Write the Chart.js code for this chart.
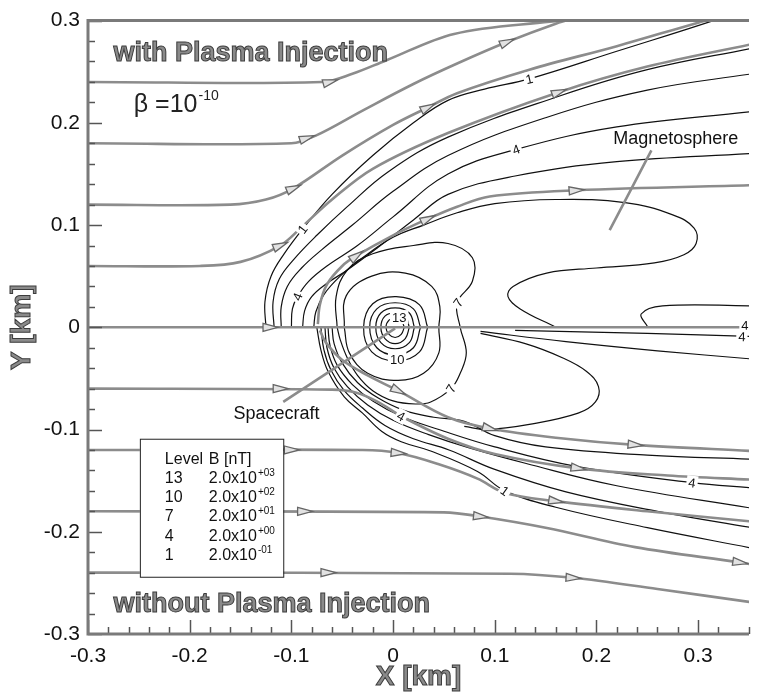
<!DOCTYPE html>
<html>
<head>
<meta charset="utf-8">
<script src="https://cdn.jsdelivr.net/npm/chart.js@4.4.1/dist/chart.umd.min.js"></script>
<style>
html, body { margin: 0; padding: 0; background: #fff; }
</style>
</head>
<body>
<canvas id="chart" width="759" height="695"></canvas>
<script>
// tick labels on both axes
const xTickLabels = ['-0.3', '-0.2', '-0.1', '0', '0.1', '0.2', '0.3'];
const yTickLabels = ['-0.3', '-0.2', '-0.1', '0', '0.1', '0.2', '0.3'];

// streamlines [x, y] in km
const s1 = [[-0.3, 0.24], [-0.07, 0.24], [-0.04, 0.248], [-0.007, 0.261], [0.06, 0.287], [0.154, 0.299], [0.2, 0.303]];
const s2 = [[-0.3, 0.18], [-0.1, 0.18], [-0.075, 0.188], [-0.03, 0.212], [0.02, 0.238], [0.063, 0.258], [0.112, 0.279], [0.16, 0.297], [0.19, 0.306]];
const s3 = [[-0.3, 0.12], [-0.16, 0.12], [-0.125, 0.125], [-0.098, 0.136], [-0.05, 0.168], [0.0, 0.198], [0.034, 0.215], [0.063, 0.229], [0.134, 0.252], [0.22, 0.275], [0.3, 0.298], [0.33, 0.306]];
const s4 = [[-0.3, 0.06], [-0.19, 0.06], [-0.15, 0.064], [-0.111, 0.08], [-0.09, 0.098], [-0.06, 0.125], [-0.02, 0.155], [0.054, 0.19], [0.163, 0.23], [0.25, 0.255], [0.353, 0.277]];
const s0 = [[-0.3, 0.0], [0.353, 0.0]];
const w1 = [[-0.074, 0.003], [-0.072, 0.022], [-0.065, 0.042], [-0.05, 0.06], [-0.036, 0.07], [0.0, 0.09], [0.034, 0.106], [0.063, 0.118], [0.095, 0.128], [0.18, 0.134], [0.353, 0.139]];
const g1 = [[-0.072, -0.003], [-0.066, -0.015], [-0.05, -0.032], [-0.025, -0.047], [0.005, -0.062], [0.054, -0.088], [0.095, -0.099], [0.16, -0.108], [0.238, -0.115], [0.353, -0.121]];
const l1 = [[-0.3, -0.06], [-0.06, -0.061], [-0.036, -0.064], [-0.015, -0.073], [0.01, -0.088], [0.054, -0.109], [0.1, -0.124], [0.182, -0.138], [0.27, -0.145], [0.353, -0.149]];
const l2 = [[-0.3, -0.12], [-0.03, -0.12], [0.005, -0.123], [0.045, -0.134], [0.083, -0.148], [0.11, -0.162], [0.16, -0.17], [0.25, -0.18], [0.353, -0.19]];
const l3 = [[-0.3, -0.18], [0.05, -0.181], [0.086, -0.185], [0.15, -0.196], [0.238, -0.215], [0.341, -0.23], [0.353, -0.232]];
const l4 = [[-0.3, -0.24], [0.115, -0.241], [0.177, -0.245], [0.26, -0.256], [0.353, -0.269]];

// arrow heads: [streamline, x, y]
const arrowMarks = [
    [s1, -0.062, 0.24],
    [s2, -0.085, 0.185], [s2, 0.112, 0.279],
    [s3, -0.098, 0.136], [s3, 0.034, 0.215],
    [s4, -0.111, 0.08], [s4, 0.163, 0.23],
    [w1, -0.036, 0.07], [w1, 0.034, 0.106], [w1, 0.18, 0.134],
    [s0, -0.121, 0.0],
    [g1, 0.005, -0.062], [g1, 0.095, -0.099], [g1, 0.238, -0.115],
    [l1, -0.111, -0.06], [l1, 0.182, -0.138],
    [l2, -0.1, -0.12], [l2, 0.005, -0.123], [l2, 0.16, -0.17],
    [l3, -0.087, -0.18], [l3, 0.086, -0.185], [l3, 0.341, -0.23],
    [l4, -0.064, -0.24], [l4, 0.177, -0.245]
];

// contours of |B|, upper fan
const cu1 = [[-0.125, 0], [-0.126, 0.025], [-0.12, 0.05], [-0.107, 0.072], [-0.089, 0.096], [-0.06, 0.13], [-0.02, 0.168], [0.02, 0.2], [0.054, 0.222], [0.09, 0.233], [0.134, 0.243], [0.22, 0.27], [0.315, 0.3], [0.33, 0.306]];
const cu2 = [[-0.117, 0], [-0.118, 0.025], [-0.112, 0.047], [-0.098, 0.066], [-0.075, 0.09], [-0.045, 0.118], [-0.005, 0.152], [0.054, 0.186], [0.163, 0.226], [0.25, 0.252], [0.353, 0.273]];
const cu3 = [[-0.11, 0], [-0.11, 0.02], [-0.104, 0.04], [-0.09, 0.058], [-0.07, 0.076], [-0.04, 0.1], [0.0, 0.133], [0.054, 0.168], [0.15, 0.205], [0.25, 0.232], [0.353, 0.248]];
const cu4 = [[-0.1, 0], [-0.099, 0.018], [-0.094, 0.03], [-0.083, 0.045], [-0.065, 0.06], [-0.035, 0.08], [0.0, 0.108], [0.054, 0.15], [0.121, 0.174], [0.22, 0.196], [0.353, 0.211]];
const cu5 = [[-0.089, 0], [-0.087, 0.016], [-0.08, 0.03], [-0.065, 0.043], [-0.045, 0.056], [-0.015, 0.078], [0.02, 0.105], [0.054, 0.13], [0.12, 0.148], [0.22, 0.162], [0.353, 0.17]];
const cu6 = [[-0.078, 0], [-0.076, 0.015], [-0.068, 0.032], [-0.052, 0.05], [-0.03, 0.068], [0.0, 0.088], [0.03, 0.1], [0.063, 0.112], [0.1, 0.121], [0.16, 0.125], [0.228, 0.122], [0.275, 0.11], [0.296, 0.097], [0.298, 0.082], [0.286, 0.071], [0.257, 0.063], [0.2, 0.058], [0.151, 0.053], [0.118, 0.04], [0.113, 0.03], [0.125, 0.018], [0.16, 0]];

// contours of |B|, lower fan
const cl1 = [[-0.075, 0], [-0.071, -0.022], [-0.064, -0.043], [-0.048, -0.068], [-0.03, -0.084], [-0.011, -0.102], [0.008, -0.112], [0.037, -0.121], [0.083, -0.141], [0.11, -0.16], [0.16, -0.176], [0.25, -0.196], [0.353, -0.216]];
const cl2 = [[-0.071, 0], [-0.068, -0.022], [-0.061, -0.042], [-0.048, -0.062], [-0.03, -0.079], [-0.008, -0.096], [0.02, -0.109], [0.055, -0.12], [0.1, -0.139], [0.17, -0.161], [0.26, -0.18], [0.353, -0.196]];
const cl3 = [[-0.067, 0], [-0.065, -0.02], [-0.058, -0.04], [-0.045, -0.058], [-0.025, -0.076], [0.0, -0.091], [0.035, -0.105], [0.075, -0.118], [0.13, -0.133], [0.22, -0.155], [0.353, -0.177]];
const cl4 = [[-0.064, 0], [-0.062, -0.018], [-0.055, -0.037], [-0.04, -0.056], [-0.02, -0.072], [0.008, -0.087], [0.045, -0.1], [0.1, -0.117], [0.18, -0.136], [0.294, -0.152], [0.353, -0.157]];
const cl5 = [[-0.06, 0], [-0.058, -0.016], [-0.05, -0.035], [-0.035, -0.054], [-0.015, -0.069], [0.01, -0.081], [0.04, -0.088], [0.07, -0.092], [0.1, -0.106], [0.15, -0.117], [0.25, -0.125], [0.353, -0.129]];

// contours around the spacecraft
const r1 = [[0.011, 0], [0.008, 0.007], [0.002, 0.009], [-0.004, 0.007], [-0.007, 0], [-0.004, -0.007], [0.002, -0.01], [0.008, -0.007], [0.011, 0]];
const r2 = [[0.016, 0], [0.012, 0.011], [0.002, 0.014], [-0.008, 0.011], [-0.012, 0], [-0.008, -0.011], [0.002, -0.016], [0.012, -0.011], [0.016, 0]];
const r3 = [[0.021, 0], [0.016, 0.014], [0.002, 0.019], [-0.012, 0.014], [-0.017, 0], [-0.012, -0.015], [0.002, -0.021], [0.016, -0.015], [0.021, 0]];
const r4 = [[0.027, 0], [0.02, 0.018], [0.002, 0.024], [-0.016, 0.018], [-0.023, 0], [-0.016, -0.02], [0.002, -0.027], [0.02, -0.02], [0.027, 0]];
const r5 = [[0.034, 0], [0.026, 0.022], [0.003, 0.03], [-0.02, 0.023], [-0.029, 0], [-0.021, -0.024], [0.003, -0.033], [0.026, -0.024], [0.034, 0]];
const r6 = [[-0.048, 0], [-0.046, 0.031], [-0.021, 0.05], [0.012, 0.053], [0.038, 0.04], [0.046, 0.02], [0.045, 0], [0.045, -0.025], [0.03, -0.045], [0.005, -0.052], [-0.025, -0.045], [-0.043, -0.025], [-0.048, 0]];
const c7 = [[-0.055, 0], [-0.056, 0.03], [-0.045, 0.056], [-0.02, 0.072], [0.02, 0.08], [0.054, 0.082], [0.078, 0.068], [0.078, 0.045], [0.063, 0.024], [0.066, 0], [0.072, -0.025], [0.066, -0.045], [0.057, -0.06], [0.037, -0.073], [0.022, -0.075], [0.0, -0.072], [-0.02, -0.062], [-0.035, -0.047], [-0.045, -0.03], [-0.052, -0.012], [-0.055, 0]];

// contours in the tail
const cr7 = [[0.086, -0.004], [0.17, -0.014], [0.26, -0.023], [0.353, -0.031]];
const lobeLow = [[0.086, -0.006], [0.13, -0.016], [0.167, -0.03], [0.19, -0.043], [0.202, -0.058], [0.199, -0.073], [0.182, -0.084], [0.134, -0.095], [0.092, -0.1], [0.07, -0.097]];
const cr4a = [[0.25, 0.001], [0.244, 0.013], [0.265, 0.021], [0.353, 0.021]];
const cr4b = [[0.12, -0.003], [0.25, -0.006], [0.353, -0.009]];

// contour level labels: [contour, x, y, text]
const contourLabels = [
    [cu1, -0.089, 0.096, '1'], [cu1, 0.134, 0.243, '1'],
    [cu4, -0.094, 0.03, '4'], [cu4, 0.121, 0.174, '4'],
    [c7, 0.064, 0.024, '7'], [c7, 0.057, -0.06, '7'],
    [null, 0.006, 0.01, '13'], [null, 0.004, -0.031, '10'],
    [cl4, 0.008, -0.087, '4'], [cl4, 0.294, -0.152, '4'],
    [cl1, 0.11, -0.16, '1'],
    [null, 0.346, 0.002, '4'], [cr4b, 0.343, -0.009, '4']
];

// pointer lines for the annotations
const magPointer = [[0.254, 0.173], [0.213, 0.095]];
const craftPointer = [[-0.108, -0.073], [0.002, -0.001]];

// level table
const legendLevels = ['13', '10', '7', '4', '1'];
const legendExponents = ['+03', '+02', '+01', '+00', '-01'];
const legendBox = [[-0.249, -0.109], [-0.108, -0.244]];

const FONT = "'Liberation Sans', Arial, Helvetica, sans-serif";
const streamlines = [s0, s1, s2, s3, s4, w1, g1, l1, l2, l3, l4, magPointer, craftPointer];
const contours = [cu1, cu2, cu3, cu4, cu5, cu6, cl1, cl2, cl3, cl4, cl5, r1, r2, r3, r4, r5, r6, c7, cr7, lobeLow, cr4a, cr4b];

function toXY(pts) {
    return pts.map(p => ({ x: p[0], y: p[1] }));
}

function tickText(value, labels) {
    const s = String(Math.round(value * 100) / 100);
    return labels.includes(s) ? s : '';
}

// direction of a curve (in pixels) near a point
function angleNear(chart, pts, x, y) {
    const xs = chart.scales.x, ys = chart.scales.y;
    const X = xs.getPixelForValue(x), Y = ys.getPixelForValue(y);
    let best = Infinity, ang = 0;
    for (let i = 0; i < pts.length - 1; i++) {
        const ax = xs.getPixelForValue(pts[i][0]), ay = ys.getPixelForValue(pts[i][1]);
        const bx = xs.getPixelForValue(pts[i + 1][0]), by = ys.getPixelForValue(pts[i + 1][1]);
        const dx = bx - ax, dy = by - ay, L = dx * dx + dy * dy;
        let t = L ? ((X - ax) * dx + (Y - ay) * dy) / L : 0;
        t = Math.max(0, Math.min(1, t));
        const d = (X - ax - t * dx) ** 2 + (Y - ay - t * dy) ** 2;
        if (d < best) { best = d; ang = Math.atan2(dy, dx); }
    }
    return ang;
}

function halftoneText(ctx, text, x, y) {
    ctx.fillStyle = '#8a8a8a';
    ctx.strokeStyle = '#3c3c3c';
    ctx.lineWidth = 1;
    ctx.fillText(text, x, y);
    ctx.strokeText(text, x, y);
}

const overlay = {
    id: 'overlay',
    afterDatasetsDraw(chart) {
        const ctx = chart.ctx, xs = chart.scales.x, ys = chart.scales.y;
        const area = chart.chartArea;
        ctx.save();
        ctx.beginPath();
        ctx.rect(area.left, area.top, area.right - area.left, area.bottom - area.top);
        ctx.clip();

        // arrow heads
        arrowMarks.forEach(([line, x, y]) => {
            const a = angleNear(chart, line, x, y);
            ctx.save();
            ctx.translate(xs.getPixelForValue(x), ys.getPixelForValue(y));
            ctx.rotate(a);
            ctx.beginPath();
            ctx.moveTo(8, 0);
            ctx.lineTo(-7, -4);
            ctx.lineTo(-7, 4);
            ctx.closePath();
            ctx.fillStyle = '#e2e2e2';
            ctx.fill();
            ctx.strokeStyle = '#666';
            ctx.lineWidth = 1.3;
            ctx.stroke();
            ctx.restore();
        });

        // contour labels
        ctx.font = '13px ' + FONT;
        ctx.textAlign = 'center';
        ctx.textBaseline = 'middle';
        contourLabels.forEach(([line, x, y, text]) => {
            let a = line ? angleNear(chart, line, x, y) : 0;
            if (a > Math.PI / 2) a -= Math.PI;
            if (a < -Math.PI / 2) a += Math.PI;
            const w = ctx.measureText(text).width + 4;
            ctx.save();
            ctx.translate(xs.getPixelForValue(x), ys.getPixelForValue(y));
            ctx.rotate(a);
            ctx.fillStyle = '#fff';
            ctx.fillRect(-w / 2, -7, w, 14);
            ctx.fillStyle = '#111';
            ctx.fillText(text, 0, 1);
            ctx.restore();
        });

        // level table
        const bx = xs.getPixelForValue(legendBox[0][0]), by = ys.getPixelForValue(legendBox[0][1]);
        const bw = xs.getPixelForValue(legendBox[1][0]) - bx, bh = ys.getPixelForValue(legendBox[1][1]) - by;
        ctx.fillStyle = '#fff';
        ctx.fillRect(bx, by, bw, bh);
        ctx.strokeStyle = '#222';
        ctx.lineWidth = 1;
        ctx.strokeRect(bx + 0.5, by + 0.5, bw, bh);
        ctx.textAlign = 'left';
        ctx.textBaseline = 'alphabetic';
        ctx.fillStyle = '#111';
        ctx.font = '16px ' + FONT;
        ctx.fillText('Level', bx + 25, by + 25);
        ctx.fillText('B [nT]', bx + 69, by + 25);
        legendLevels.forEach((lv, i) => {
            const yy = by + 44 + i * 19.3;
            ctx.font = '16px ' + FONT;
            ctx.fillText(lv, bx + 25, yy);
            ctx.fillText('2.0x10', bx + 69, yy);
            const mw = ctx.measureText('2.0x10').width;
            ctx.font = '10px ' + FONT;
            ctx.fillText(legendExponents[i], bx + 69 + mw + 1, yy - 7);
        });

        // annotations
        ctx.font = '18px ' + FONT;
        ctx.fillStyle = '#111';
        ctx.fillText('Magnetosphere', xs.getPixelForValue(0.2165), ys.getPixelForValue(0.1796));
        ctx.fillText('Spacecraft', xs.getPixelForValue(-0.157), ys.getPixelForValue(-0.0893));

        ctx.font = 'bold 27px ' + FONT;
        halftoneText(ctx, 'with Plasma Injection', xs.getPixelForValue(-0.275), ys.getPixelForValue(0.26));
        halftoneText(ctx, 'without Plasma Injection', xs.getPixelForValue(-0.275), ys.getPixelForValue(-0.278));

        ctx.fillStyle = '#222';
        ctx.font = '25px ' + FONT;
        const bxp = xs.getPixelForValue(-0.255), byp = ys.getPixelForValue(0.211);
        ctx.fillText('\u03b2 =10', bxp, byp);
        const bwid = ctx.measureText('\u03b2 =10').width;
        ctx.font = '14px ' + FONT;
        ctx.fillText('-10', bxp + bwid + 1, byp - 12);
        ctx.restore();
    },
    afterDraw(chart) {
        const ctx = chart.ctx, area = chart.chartArea;
        const xs = chart.scales.x, ys = chart.scales.y;
        ctx.save();
        // inward tick marks
        ctx.strokeStyle = '#555';
        ctx.lineWidth = 1.5;
        xs.ticks.forEach(t => {
            const px = Math.round(xs.getPixelForValue(t.value)) + 0.5;
            const len = tickText(t.value, xTickLabels) ? 14 : 7;
            ctx.beginPath();
            ctx.moveTo(px, area.bottom);
            ctx.lineTo(px, area.bottom - len);
            ctx.stroke();
        });
        ys.ticks.forEach(t => {
            const py = Math.round(ys.getPixelForValue(t.value)) + 0.5;
            const len = tickText(t.value, yTickLabels) ? 14 : 7;
            ctx.beginPath();
            ctx.moveTo(area.left, py);
            ctx.lineTo(area.left + len, py);
            ctx.stroke();
        });
        // frame
        ctx.strokeStyle = '#7a7a7a';
        ctx.lineWidth = 3;
        ctx.beginPath();
        ctx.moveTo(area.right, area.top);
        ctx.lineTo(area.left, area.top);
        ctx.lineTo(area.left, area.bottom);
        ctx.lineTo(area.right, area.bottom);
        ctx.stroke();

        // axis titles
        ctx.font = 'bold 28px ' + FONT;
        ctx.textAlign = 'center';
        ctx.textBaseline = 'middle';
        halftoneText(ctx, 'X [km]', (area.left + area.right) / 2, 677);
        ctx.translate(22, (area.top + area.bottom) / 2);
        ctx.rotate(-Math.PI / 2);
        halftoneText(ctx, 'Y [km]', 0, 0);
        ctx.restore();
    }
};

const datasets = [];
streamlines.forEach(line => datasets.push({
    data: toXY(line),
    borderColor: '#8c8c8c',
    borderWidth: 2.6,
    pointRadius: 0,
    tension: 0.35,
    fill: false
}));
contours.forEach(line => datasets.push({
    data: toXY(line),
    borderColor: '#111',
    borderWidth: 1.2,
    pointRadius: 0,
    tension: 0.4,
    fill: false
}));

new Chart(document.getElementById('chart'), {
    type: 'line',
    data: { datasets: datasets },
    options: {
        responsive: false,
        animation: false,
        devicePixelRatio: 1,
        events: [],
        layout: { padding: { top: 16, right: 0, bottom: 0, left: 0 } },
        plugins: { legend: { display: false }, tooltip: { enabled: false } },
        scales: {
            x: {
                type: 'linear',
                min: -0.3,
                max: 0.35,
                grid: { display: false, drawTicks: false },
                border: { display: false },
                afterFit: scale => { scale.height = 61; },
                ticks: {
                    stepSize: 0.02,
                    autoSkip: false,
                    maxRotation: 0,
                    padding: 10,
                    color: '#111',
                    font: { family: FONT, size: 21 },
                    callback: v => tickText(v, xTickLabels)
                }
            },
            y: {
                type: 'linear',
                min: -0.3,
                max: 0.3,
                grid: { display: false, drawTicks: false },
                border: { display: false },
                afterFit: scale => { scale.width = 88; },
                ticks: {
                    stepSize: 0.02,
                    autoSkip: false,
                    padding: 8,
                    color: '#111',
                    font: { family: FONT, size: 21 },
                    callback: v => tickText(v, yTickLabels)
                }
            }
        }
    },
    plugins: [overlay]
});
</script>
</body>
</html>
